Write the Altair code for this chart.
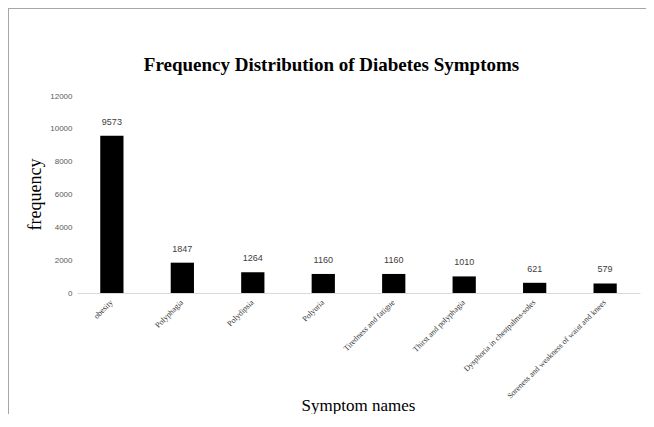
import altair as alt
import pandas as pd

symptoms = ["obesity", "Polyphagia", "Polydipsia", "Polyuria", "Tiredness and fatigue",
            "Thirst and polyphagia", "Dysphoria in chestpalms-soles",
            "Soreness and weakness of waist and knees"]
counts = [9573, 1847, 1264, 1160, 1160, 1010, 621, 579]
y_ticks = [0, 2000, 4000, 6000, 8000, 10000, 12000]

df = pd.DataFrame({"symptom": symptoms, "count": counts})

SERIF = "Liberation Serif"
SANS = "Liberation Sans"

x = alt.X("symptom:N", sort=symptoms, scale=alt.Scale(paddingInner=0.67, paddingOuter=0.33),
          axis=alt.Axis(title="Symptom names", labelAngle=-45, labelAlign="right",
                        labelBaseline="middle", labelFont=SERIF, labelFontSize=8,
                        labelColor="#333333", labelPadding=8, ticks=False,
                        domainColor="#d9d9d9", titleFont=SERIF, titleFontSize=17,
                        titleFontWeight="normal", titleColor="#000000",
                        titleX=281, titleY=117, titleBaseline="alphabetic", labelLimit=300))
y = alt.Y("count:Q", scale=alt.Scale(domain=[0, 12000]),
          axis=alt.Axis(title="frequency", values=y_ticks, format="d", labelOverlap=False,
                        grid=False, domain=False, ticks=False,
                        labelFont=SANS, labelFontSize=8, labelColor="#595959", labelPadding=5,
                        titleFont=SERIF, titleFontSize=18, titleFontWeight="normal",
                        titleColor="#000000", titleX=-37, titleY=98, titleAngle=-90,
                        titleAlign="center", titleBaseline="alphabetic"))

base = alt.Chart(df).encode(x=x, y=y)
bars = base.mark_bar(color="#000000")
labels = base.mark_text(dy=-14, font=SANS, fontSize=9, color="#404040").encode(text="count:Q")

top_border = alt.Chart(df).mark_rule(color="#a6a6a6", strokeWidth=1).encode(
    x=alt.value(-69), x2=alt.value(573), y=alt.value(-88))
left_border = alt.Chart(df).mark_rule(color="#a6a6a6", strokeWidth=1).encode(
    x=alt.value(-69), y=alt.value(-88), y2=alt.value(330))

chart = alt.layer(bars, labels, top_border, left_border).properties(
    width=563, height=197,
    autosize=alt.AutoSizeParams(type="none"),
    padding={"left": 69, "top": 88, "right": 6, "bottom": 121},
    title=alt.TitleParams("Frequency Distribution of Diabetes Symptoms", font=SERIF,
                          fontSize=19, fontWeight="bold", color="#000000",
                          anchor="middle", baseline="alphabetic", offset=0, dy=82, dx=-27),
).configure_view(stroke=None)

chart.save("out.html", embed_options={"renderer": "svg", "actions": False})
